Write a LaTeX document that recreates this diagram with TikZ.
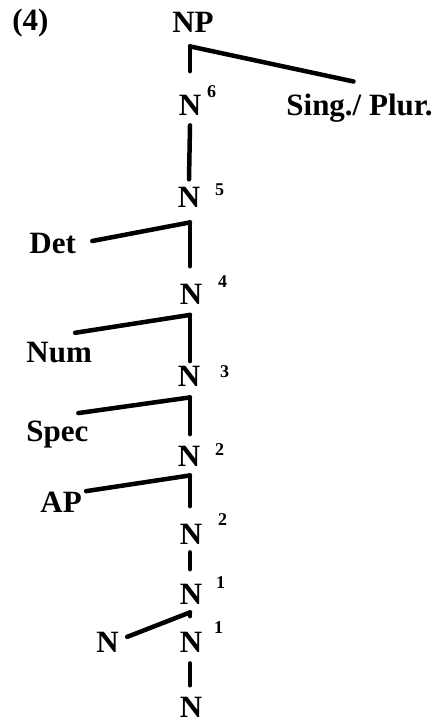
\documentclass[tikz,border=0pt]{standalone}
\usepackage{fontspec}
\setmainfont{Liberation Serif}
\usepackage{tikz}
\usetikzlibrary{positioning}
\newcommand{\Nlev}[3]{N\rlap{\hspace{#2}\raisebox{#3}{\fontsize{9}{9}\selectfont\bfseries #1}}}

\begin{document}
\begin{tikzpicture}[
x=0.5pt,y=-0.5pt,
cat/.style={inner sep=0pt,anchor=base,font=\fontsize{15.5}{18}\selectfont\bfseries},
side/.style={cat,anchor=base west},
branch/.style={line width=2.25pt,line cap=round,line join=round}
]
\useasboundingbox (0,0) rectangle (439,722);
\node[side] (ex) at (12,31) {(4)};
\node[cat] (np) at (193,33) {NP};
\node[cat] (n6) at (190,115) {\Nlev{6}{3pt}{9pt}};
\node[side] (sing) at (286,115) {Sing./ Plur.};
\node[cat] (n5) at (189,207) {\Nlev{5}{7.5pt}{6pt}};
\node[side] (det) at (29,253) {Det};
\node[cat] (n4) at (191,304) {\Nlev{4}{8pt}{8.5pt}};
\node[side] (num) at (26,362) {Num};
\node[cat] (n3) at (189,386) {\Nlev{3}{10pt}{4.5pt}};
\node[side] (spec) at (26,441) {Spec};
\node[cat] (n2a) at (189,466) {\Nlev{2}{7.5pt}{5.5pt}};
\node[side] (ap) at (40,512) {AP};
\node[cat] (n2b) at (191,544) {\Nlev{2}{8pt}{9.5pt}};
\node[cat] (n1a) at (191,604) {\Nlev{1}{7pt}{8pt}};
\node[side] (nleft) at (96,652) {N};
\node[cat] (n1b) at (191,652) {\Nlev{1}{6pt}{9.5pt}};
\node[cat] (n0) at (191,717) {N};
\draw[branch] ([yshift=-6.5pt]np.south -| n6) coordinate (j6) -- ([yshift=6.75pt]n6.north);
\draw[branch] (j6) -- ([xshift=-3pt,yshift=5.8pt]sing.north);
\draw[branch] ([yshift=-5pt]n6.south) -- ([yshift=1.75pt]n5.north);
\draw[branch] ([yshift=-7.5pt]n5.south -| n6) coordinate (j5) -- ([yshift=4.25pt]n4.north -| n6);
\draw[branch] (j5) -- ([xshift=8pt,yshift=1pt]det.east);
\draw[branch] ([yshift=-5.25pt]n4.south -| n6) coordinate (j4) -- ([yshift=1.75pt]n3.north -| n6);
\draw[branch] (j4) -- ([xshift=8pt,yshift=4.25pt]num.north);
\draw[branch] ([yshift=-5.5pt]n3.south -| n6) coordinate (j3) -- ([yshift=4.25pt]n2a.north -| n6);
\draw[branch] (j3) -- ([xshift=10.5pt,yshift=3.5pt]spec.north);
\draw[branch] ([yshift=-4.5pt]n2a.south -| n6) coordinate (j2) -- ([yshift=3.25pt]n2b.north -| n6);
\draw[branch] (j2) -- ([xshift=2pt]ap.north east);
\draw[branch] ([yshift=-4pt]n2b.south -| n6) -- ([yshift=3.25pt]n1a.north -| n6);
\draw[branch] ([yshift=-4pt]n1a.south -| n6) coordinate (j1) -- ([yshift=2.25pt]n1b.north -| n6);
\draw[branch] (j1) -- ([xshift=4pt,yshift=2.5pt]nleft.east);
\draw[branch] ([yshift=-5.5pt]n1b.south -| n6) -- ([yshift=5.5pt]n0.north -| n6);
\end{tikzpicture}
\end{document}
